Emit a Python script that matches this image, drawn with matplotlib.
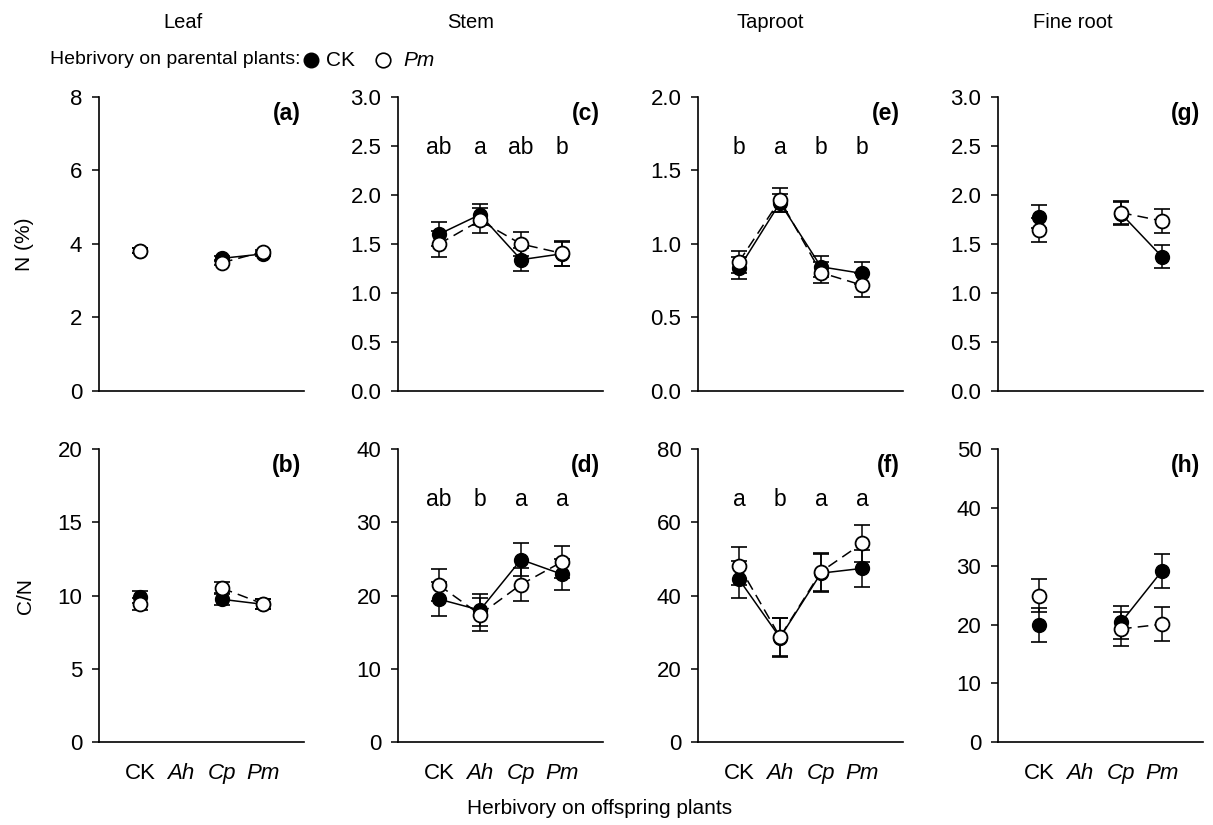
import numpy as np
import matplotlib
matplotlib.use('Agg')
import matplotlib.pyplot as plt
from matplotlib.lines import Line2D

plt.rcParams['font.family'] = ['Liberation Sans', 'DejaVu Sans']
plt.rcParams['font.size'] = 15

nan = np.nan

# Herbivory on offspring plants
grupos = ['CK', 'Ah', 'Cp', 'Pm']
x = np.arange(1, 5)

# N (%) -- parental CK (filled) / parental Pm (open)
leaf_n_ck = [3.82, nan, 3.61, 3.73]
leaf_n_ck_se = [0.07, nan, 0.07, 0.06]
leaf_n_pm = [3.82, nan, 3.49, 3.79]
leaf_n_pm_se = [0.07, nan, 0.07, 0.06]

stem_n_ck = [1.60, 1.80, 1.34, 1.40]
stem_n_ck_se = [0.125, 0.11, 0.12, 0.125]
stem_n_pm = [1.50, 1.74, 1.50, 1.405]
stem_n_pm_se = [0.13, 0.13, 0.12, 0.125]

tap_n_ck = [0.835, 1.28, 0.845, 0.80]
tap_n_ck_se = [0.075, 0.06, 0.07, 0.075]
tap_n_pm = [0.88, 1.30, 0.805, 0.72]
tap_n_pm_se = [0.075, 0.08, 0.07, 0.08]

fine_n_ck = [1.78, nan, 1.81, 1.37]
fine_n_ck_se = [0.115, nan, 0.12, 0.117]
fine_n_pm = [1.645, nan, 1.82, 1.735]
fine_n_pm_se = [0.12, nan, 0.12, 0.12]

# C/N
leaf_cn_ck = [9.92, nan, 9.74, 9.40]
leaf_cn_ck_se = [0.4, nan, 0.4, 0.35]
leaf_cn_pm = [9.43, nan, 10.5, 9.43]
leaf_cn_pm_se = [0.4, nan, 0.4, 0.35]

stem_cn_ck = [19.5, 18.0, 24.9, 22.9]
stem_cn_ck_se = [2.3, 2.2, 2.2, 2.1]
stem_cn_pm = [21.4, 17.4, 21.5, 24.6]
stem_cn_pm_se = [2.2, 2.2, 2.3, 2.2]

tap_cn_ck = [44.4, 28.5, 46.1, 47.4]
tap_cn_ck_se = [5.0, 5.3, 5.2, 5.0]
tap_cn_pm = [48.1, 28.7, 46.5, 54.2]
tap_cn_pm_se = [5.1, 5.1, 5.2, 5.0]

fine_cn_ck = [20.0, nan, 20.4, 29.2]
fine_cn_ck_se = [2.9, nan, 2.8, 2.9]
fine_cn_pm = [25.0, nan, 19.3, 20.1]
fine_cn_pm_se = [2.9, nan, 2.9, 2.9]

# letras de significância
letras_stem_n = ['ab', 'a', 'ab', 'b']
letras_tap_n = ['b', 'a', 'b', 'b']
letras_stem_cn = ['ab', 'b', 'a', 'a']
letras_tap_cn = ['a', 'b', 'a', 'a']

paineis = [
    # (linha, coluna, ck, ck_se, pm, pm_se, ymax, passo, fmt, rotulo, letras)
    (0, 0, leaf_n_ck, leaf_n_ck_se, leaf_n_pm, leaf_n_pm_se, 8, 2, '%d', '(a)', None),
    (0, 1, stem_n_ck, stem_n_ck_se, stem_n_pm, stem_n_pm_se, 3, 0.5, '%.1f', '(c)', letras_stem_n),
    (0, 2, tap_n_ck, tap_n_ck_se, tap_n_pm, tap_n_pm_se, 2, 0.5, '%.1f', '(e)', letras_tap_n),
    (0, 3, fine_n_ck, fine_n_ck_se, fine_n_pm, fine_n_pm_se, 3, 0.5, '%.1f', '(g)', None),
    (1, 0, leaf_cn_ck, leaf_cn_ck_se, leaf_cn_pm, leaf_cn_pm_se, 20, 5, '%d', '(b)', None),
    (1, 1, stem_cn_ck, stem_cn_ck_se, stem_cn_pm, stem_cn_pm_se, 40, 10, '%d', '(d)', letras_stem_cn),
    (1, 2, tap_cn_ck, tap_cn_ck_se, tap_cn_pm, tap_cn_pm_se, 80, 20, '%d', '(f)', letras_tap_cn),
    (1, 3, fine_cn_ck, fine_cn_ck_se, fine_cn_pm, fine_cn_pm_se, 50, 10, '%d', '(h)', None),
]

W, H = 1213, 825
fig = plt.figure(figsize=(W / 100, H / 100), dpi=100)

lefts = [99, 398, 698, 998]
bottoms = [391, 742]
alturas = [294, 293]
largura = 205

for lin, col, ck, ck_se, pm, pm_se, ymax, passo, fmt, rotulo, letras in paineis:
    ax = fig.add_axes([lefts[col] / W, 1 - bottoms[lin] / H, largura / W, alturas[lin] / H])

    ax.errorbar(x, ck, yerr=ck_se, fmt='none', ecolor='black', elinewidth=1.1,
                capsize=5.5, capthick=1.2, zorder=2)
    ax.plot(x, ck, color='black', lw=1.1, zorder=2)
    ax.plot(x, ck, 'o', ms=10, mfc='black', mec='black', zorder=3)

    ax.errorbar(x, pm, yerr=pm_se, fmt='none', ecolor='black', elinewidth=1.1,
                capsize=5.5, capthick=1.2, zorder=4)
    ax.plot(x, pm, color='black', lw=1.1, ls=(0, (7, 4)), zorder=4)
    ax.plot(x, pm, 'o', ms=10, mfc='white', mec='black', mew=1.3, zorder=5)

    ax.set_xlim(0, 5)
    ax.set_ylim(0, ymax)
    ax.set_yticks(np.arange(0, ymax + passo / 2, passo))
    ax.yaxis.set_major_formatter(matplotlib.ticker.FormatStrFormatter(fmt))
    ax.tick_params(axis='y', direction='out', length=5, width=1.1, pad=7, labelsize=16)
    ax.set_xticks(x)
    if lin == 1:
        ax.set_xticklabels(grupos)
        for t, nome in zip(ax.get_xticklabels(), grupos):
            if nome != 'CK':
                t.set_style('italic')
        ax.tick_params(axis='x', length=0, pad=15, labelsize=16)
    else:
        ax.set_xticklabels([])
        ax.tick_params(axis='x', length=0)

    for s in ['top', 'right']:
        ax.spines[s].set_visible(False)
    for s in ['left', 'bottom']:
        ax.spines[s].set_linewidth(1.2)

    ax.text(0.985, 0.945, rotulo, transform=ax.transAxes, ha='right', va='center',
            fontsize=16.5, fontweight='bold')

    if letras:
        for xi, l in zip(x, letras):
            ax.text(xi, 0.805 * ymax, l, ha='center', va='baseline', fontsize=16.5)

# títulos das colunas
for nome, xc in zip(['Leaf', 'Stem', 'Taproot', 'Fine root'], [183, 471, 770, 1073]):
    fig.text(xc / W, 1 - 22 / H, nome, ha='center', va='center', fontsize=14.5)

# legenda manual
yl = 1 - 60 / H
fig.text(300 / W, yl, 'Hebrivory on parental plants:', ha='right', va='center', fontsize=14)
fig.add_artist(Line2D([311 / W], [yl], marker='o', ms=10.5, mfc='black', mec='black',
                      transform=fig.transFigure))
fig.text(326 / W, yl, 'CK', ha='left', va='center', fontsize=15)
fig.add_artist(Line2D([383 / W], [yl], marker='o', ms=10.5, mfc='white', mec='black',
                      mew=1.2, transform=fig.transFigure))
fig.text(403 / W, yl, 'Pm', ha='left', va='center', fontsize=15, style='italic')

fig.text(25 / W, 1 - 244 / H, 'N (%)', rotation=90, ha='center', va='center', fontsize=15)
fig.text(25 / W, 1 - 596 / H, 'C/N', rotation=90, ha='center', va='center', fontsize=15)
fig.text(600 / W, 1 - 808 / H, 'Herbivory on offspring plants', ha='center', va='center',
         fontsize=15)

plt.savefig('out.png', dpi=100)
plt.close()
print('-> out.png')
